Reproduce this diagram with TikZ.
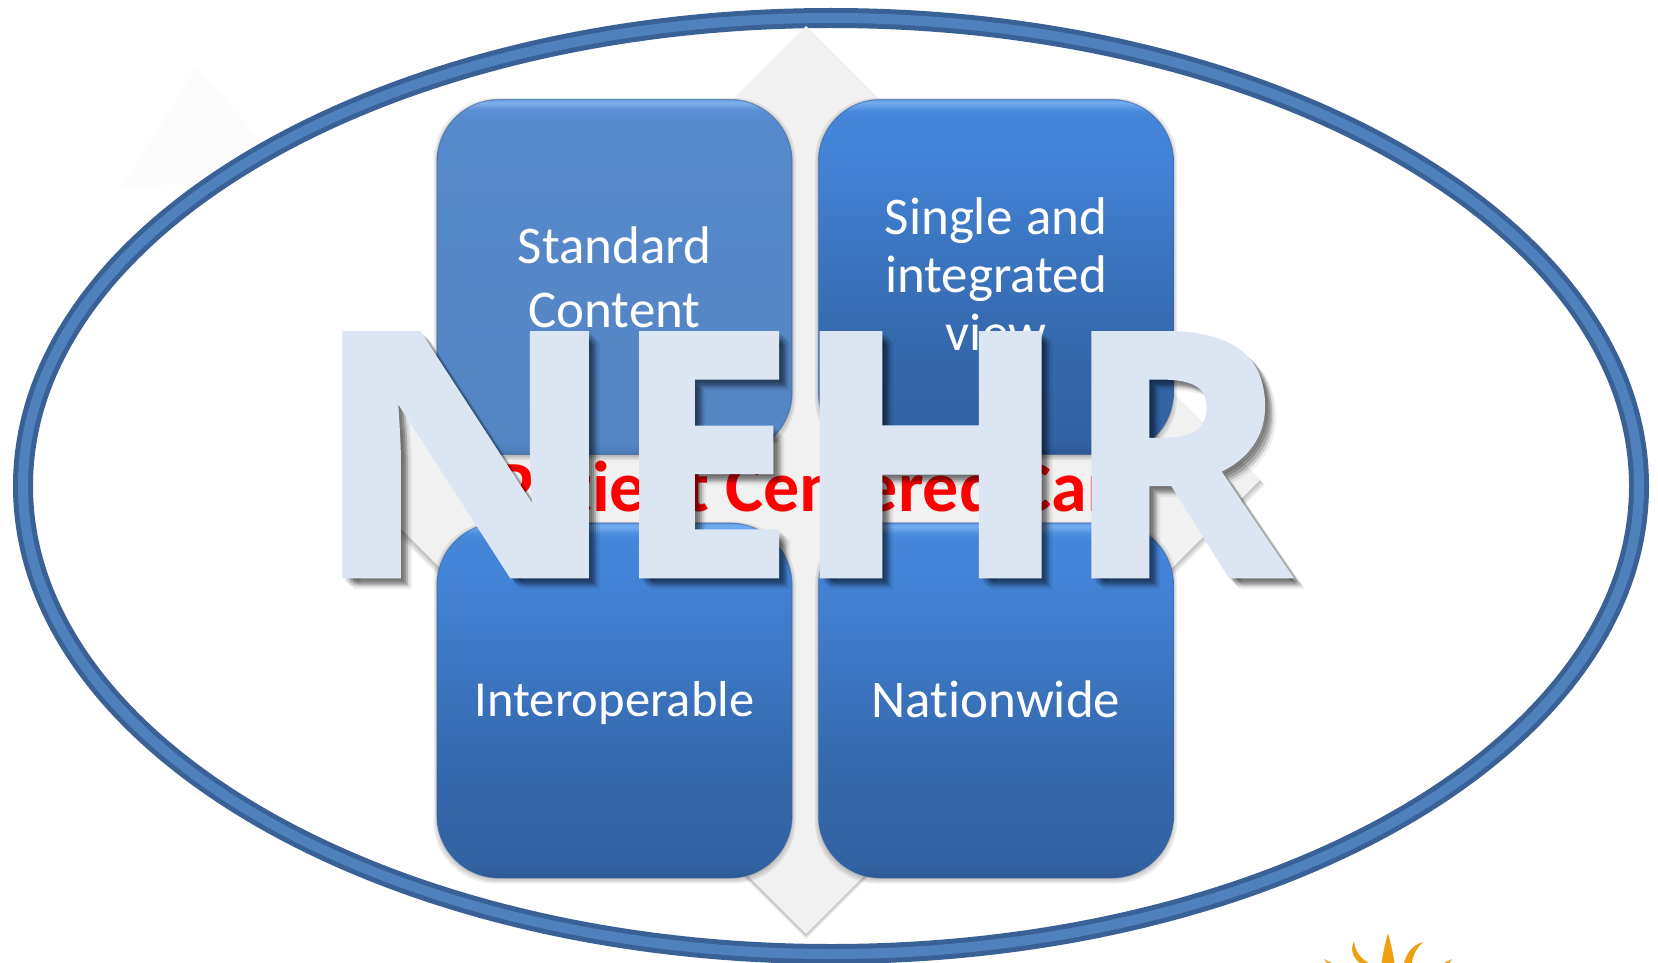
\documentclass[tikz,border=0pt]{standalone}
\usepackage{fontspec}
\usetikzlibrary{calc}
\setmainfont[Ligatures=NoCommon]{Carlito}
\newfontfamily\nehrfont[FakeBold=2]{Open Sans Bold}
\definecolor{ringdark}{HTML}{3A6196}
\definecolor{ringlight}{HTML}{4F81BD}
\definecolor{diamondgrey}{HTML}{F1F1F1}
\definecolor{nehrfill}{HTML}{DCE6F2}
\definecolor{sunorange}{HTML}{EFA010}
\definecolor{faintgrey}{HTML}{FCFCFC}
\definecolor{ba}{HTML}{2C5892}\definecolor{bb}{HTML}{3262A2}\definecolor{bc}{HTML}{3568AC}
\definecolor{bd}{HTML}{3C76C2}\definecolor{be}{HTML}{4484D8}\definecolor{bf}{HTML}{4485D8}
\definecolor{bg}{HTML}{4A8CDF}\definecolor{bh}{HTML}{74ADF0}\definecolor{bi}{HTML}{5F9BE5}
\definecolor{fa}{HTML}{4A79B4}\definecolor{fb}{HTML}{5485C4}\definecolor{fc}{HTML}{5689CB}
\definecolor{fd}{HTML}{5A8ED2}\definecolor{fe}{HTML}{7FB0EC}\definecolor{ff}{HTML}{6A9EDF}
\pgfdeclareverticalshading{boxblue}{100bp}{
 color(0bp)=(ba); color(25bp)=(ba); color(26.5bp)=(bb); color(40bp)=(bc); color(55bp)=(bd);
 color(68bp)=(be); color(72.5bp)=(bf); color(73.5bp)=(bg); color(74.5bp)=(bh); color(75bp)=(bi); color(100bp)=(bi)}
\pgfdeclareverticalshading{boxflat}{100bp}{
 color(0bp)=(fa); color(25bp)=(fa); color(26.5bp)=(fb); color(71bp)=(fc); color(73.5bp)=(fd);
 color(74.5bp)=(fe); color(75bp)=(ff); color(100bp)=(ff)}
\tikzset{
  x=1pt,y=-1pt,
  boxbase/.style={rectangle,rounded corners=62pt,minimum width=355pt,minimum height=355pt,inner sep=0pt},
  boxshape/.style={boxbase,draw=ringdark,draw opacity=.5,line width=1.2pt,shade,shading=#1,
    text=white,align=center,font=\fontsize{53}{64}\selectfont,text width=340pt},
  boxhalo/.style={boxbase,fill=black,fill opacity=.07,minimum width=355pt+#1,minimum height=355pt+#1},
  nehrstyle/.style={anchor=base west,inner sep=0pt,font=\fontsize{337}{337}\nehrfont},
}
\newcommand{\nehrword}{\scalebox{1.12}[1]{N}\kern-6pt\scalebox{.965}[1]{E}\kern-5pt\scalebox{1.09}[1]{H}\kern-7pt\scalebox{1.005}[1]{R}}
\newcommand{\softbox}[2]{%
  \node[boxhalo=7pt] (halo2#2) at (#1) {};
  \node[boxhalo=4pt] (halo3#2) at (#1) {};
  \node[boxhalo=1pt] (halo4#2) at (#1) {};
}
\begin{document}
\begin{tikzpicture}
\useasboundingbox (0,0) rectangle (1658,963);
\clip (0,0) rectangle (1658,963);
\fill[white] (0,0) rectangle (1658,963);
% faint shape behind the ring
\fill[faintgrey] (122,188) -- (197,67) -- (290,175) -- cycle;
% ring
\fill[white] (831,486) ellipse [x radius=808,y radius=468];
\draw[ringdark,line width=20pt] (831,486) ellipse [x radius=808,y radius=468];
\draw[ringlight,line width=10pt] (831,486) ellipse [x radius=808,y radius=468];
% diamond
\foreach \o in {5,4,3,2,1}{
  \fill[black,opacity=.05] (806,26+\o) -- (1260+\o,480+\o) -- (806,934+\o) -- (352-\o,480+\o) -- cycle;
}
\fill[diamondgrey] (806,26) -- (1260,480) -- (806,934) -- (352,480) -- cycle;
% boxes
\coordinate (tl) at (614.5,277);
\coordinate (tr) at (996,277);
\coordinate (bl) at (614.5,700.5);
\coordinate (br) at (996,700.5);
\softbox{$(tl)+(0,2)$}{a}
\softbox{$(tr)+(0,2)$}{b}
\softbox{$(bl)+(0,2)$}{c}
\softbox{$(br)+(0,2)$}{d}
\node[boxshape=boxflat] (std) at (tl) {Standard\\Content};
\node[boxshape=boxblue,font=\fontsize{53}{58}\selectfont] (single) at (tr) {\raisebox{2.5pt}[\height][\depth]{\parbox{340pt}{\centering Single\kern-4pt{} and\\integrated\\view}}};
\node[boxshape=boxblue,font=\fontsize{50.5}{60}\selectfont] (inter) at (bl) {\raisebox{-3pt}[\height][\depth]{Interoperable}};
\node[boxshape=boxblue] (nation) at (br) {\raisebox{1pt}[\height][\depth]{Nationwide}};
% red line
\node[anchor=base,inner sep=0pt,text=red,font=\fontsize{72}{72}\selectfont\bfseries] (care) at (822,511) {Patient Centered Care};
% NEHR
\foreach \o/\p in {11/.06,9/.08,7/.12,5/.12,3/.09}{
  \node[nehrstyle,text=black,text opacity=\p] (shadow\o) at (312+\o,575+\o) {\nehrword};
}
\node[nehrstyle,text=nehrfill] (nehr) at (312,575) {\nehrword};
% sun
\begin{scope}[fill=sunorange]
\fill (1388,933) .. controls (1391,945) and (1394,955) .. (1395,970) -- (1381,970) .. controls (1382,955) and (1385,945) .. (1388,933) -- cycle;
\fill (1354,941) .. controls (1349,952) and (1354,960) .. (1368,970) -- (1380,970) .. controls (1365,962) and (1355,955) .. (1354,941) -- cycle;
\fill (1423,942) .. controls (1412,945) and (1404,955) .. (1403,970) -- (1412,970) .. controls (1411,958) and (1415,950) .. (1423,942) -- cycle;
\fill (1324,959) .. controls (1332,963) and (1338,966) .. (1345,970) -- (1332,970) -- cycle;
\fill (1452,959) .. controls (1444,963) and (1438,966) .. (1432,970) -- (1445,970) -- cycle;
\end{scope}
\end{tikzpicture}
\end{document}
